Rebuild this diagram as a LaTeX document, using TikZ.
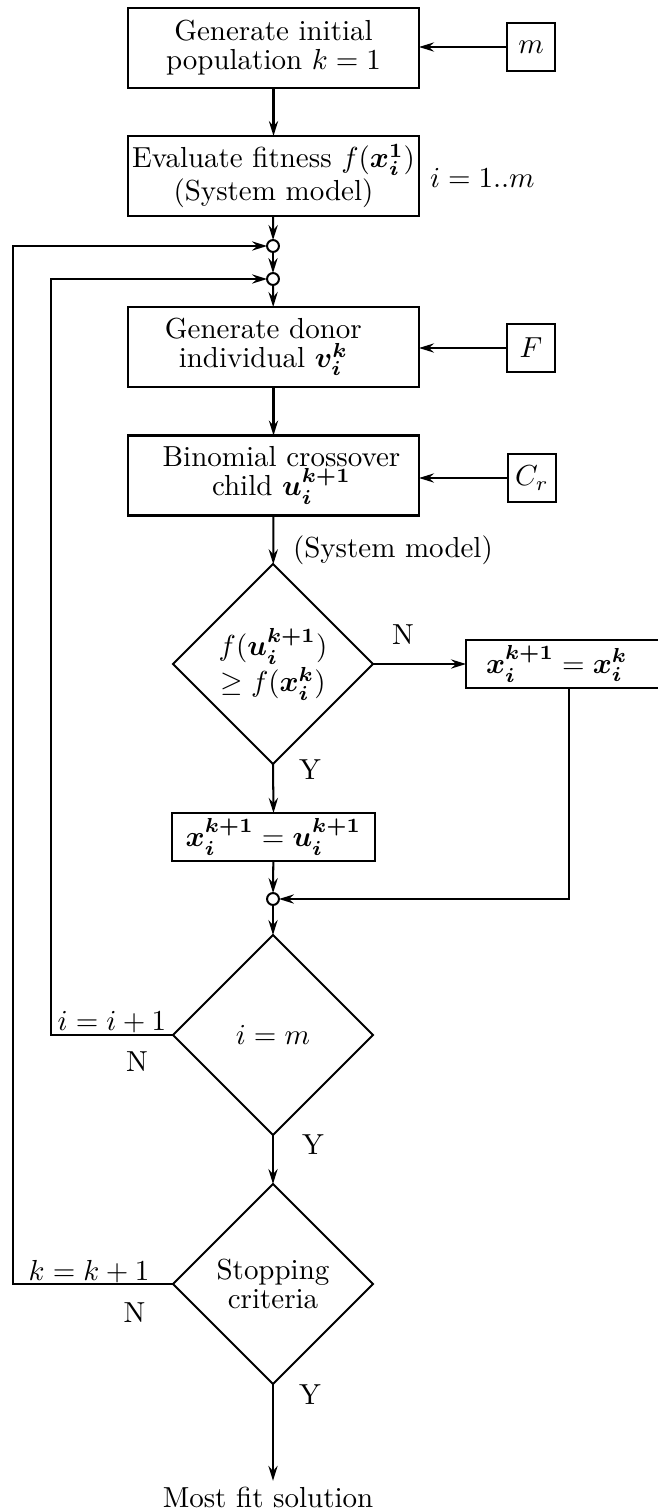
\documentclass[tikz,border=0pt]{standalone}
\usepackage{amsmath,bm}
\usetikzlibrary{shapes.geometric,arrows.meta}
\begin{document}
\begin{tikzpicture}[x=0.345pt,y=-0.345pt,
  every node/.style={inner sep=0pt, outer sep=0pt},
  arr/.style={line width=0.7pt,-{Stealth[length=5.2pt,width=3.2pt,inset=1.8pt]}},
  mainbox/.style={draw,line width=0.7pt,minimum width=100.4pt,minimum height=27.6pt,align=center,font=\linespread{0.83}\selectfont},
  parbox/.style={draw,line width=0.7pt,minimum width=16.4pt,minimum height=16.6pt},
  smallbox/.style={draw,line width=0.7pt,minimum width=70pt,minimum height=16.6pt},
  dec/.style={draw,diamond,line width=0.7pt,minimum width=69pt,minimum height=69pt,align=center,font=\linespread{0.83}\selectfont},
  junction/.style={draw,circle,line width=0.7pt,minimum size=4.1pt,fill=white}
]
\useasboundingbox (0,0) rectangle (658,1511);

\node[mainbox] (gen) at (273.5,48) {Generate initial\\population $k=1$};
\node[parbox] (m) at (531,47) {$m$};
\node[mainbox] (eval) at (273.5,176) {Evaluate fitness $f(\bm{x_i^1})$\\(System model)};
\node[anchor=west] (range) at (430,178) {$i=1..m$};
\node[junction] (j1) at (273,246) {};
\node[junction] (j2) at (273,279) {};
\node[mainbox] (donor) at (273.5,347) {Generate donor\hspace*{7pt}\\individual $\bm{v_i^k}$\hspace*{7pt}};
\node[parbox] (F) at (531,348) {$F$};
\node[mainbox] (cross) at (273.5,475.5) {\hspace*{5.5pt}Binomial crossover\\\hspace*{5.5pt}child $\bm{u_i^{k+1}}$};
\node[parbox] (Cr) at (532,478) {$C_r$};
\node[anchor=west] (sys) at (293,550) {(System model)};
\node[dec] (d1) at (273,664) {$f(\bm{u_i^{k+1}})$\\$\geq f(\bm{x_i^k})$};
\node[smallbox,anchor=west,minimum width=71.1pt] (keep) at (466,664) {$\bm{x_i^{k+1}}=\bm{x_i^k}$\hspace*{8.5pt}};
\node[smallbox] (acc) at (273.5,837) {$\bm{x_i^{k+1}}=\bm{u_i^{k+1}}$};
\node[junction] (j3) at (273,899) {};
\node[dec] (d2) at (273,1035) {$i=m$};
\node[dec] (d3) at (273,1284) {Stopping\\criteria};
\node[inner sep=2pt] (out) at (268,1497) {Most fit solution};

\node (n1) at (403,635) {N};
\node (y1) at (310,770) {Y};
\node (ii) at (112,1022) {$i=i+1$};
\node (n2) at (137,1062) {N};
\node (y2) at (313,1145) {Y};
\node (kk) at (89,1272) {$k=k+1$};
\node (n3) at (134.5,1313) {N};
\node (y3) at (310,1395) {Y};

\coordinate (l1) at (13,1284);
\coordinate (l2) at (51,1035);

\draw[arr] (m.west) -- (m.west -| gen.east);
\draw[arr] (gen) -- (eval);
\draw[arr] (eval) -- (j1);
\draw[arr] (j1) -- (j2);
\draw[arr] (j2) -- (donor);
\draw[arr] (F.west) -- (F.west -| donor.east);
\draw[arr] (donor) -- (cross);
\draw[arr] (Cr.west) -- (Cr.west -| cross.east);
\draw[arr] (cross) -- (d1);
\draw[arr] (d1.east) -- (keep.west);
\draw[arr] (d1.south) -- (acc.north);
\draw[arr] (acc) -- (j3);
\draw[arr] (keep.south) |- (j3.east);
\draw[arr] (j3) -- (d2);
\draw[arr] (d2) -- (d3);
\draw[arr] (d3.south) -- (d3.south |- out.north);
\draw[arr] (d2.west) -- (l2) |- (j2.west);
\draw[arr] (d3.west) -- (l1) |- (j1.west);
\end{tikzpicture}
\end{document}
